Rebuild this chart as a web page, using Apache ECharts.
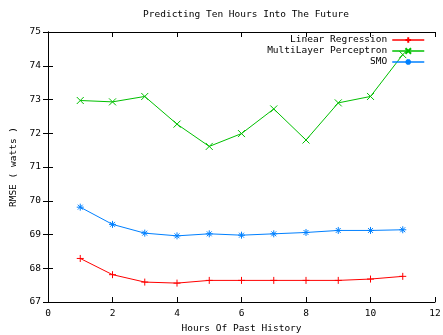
<!DOCTYPE html>
<html><head><meta charset="utf-8">
<script src="https://cdn.jsdelivr.net/npm/echarts@6/dist/echarts.min.js"></script>
<style>html,body{margin:0;padding:0;background:#fff}#c{width:443px;height:335px}</style>
</head><body><div id="c"></div>
<script>
const hours = [1,2,3,4,5,6,7,8,9,10,11];
const linearRegression = [68.29,67.81,67.59,67.56,67.64,67.64,67.64,67.64,67.64,67.68,67.76];
const multiLayerPerceptron = [72.97,72.93,73.09,72.27,71.61,71.99,72.72,71.80,72.90,73.09,74.33];
const smo = [69.81,69.30,69.04,68.96,69.02,68.98,69.02,69.06,69.12,69.12,69.14];
const xTicks = [0,2,4,6,8,10,12];
const yTicks = [67,68,69,70,71,72,73,74,75];

const font = 'DejaVu Sans Mono';
const txt = {fontFamily: font, fontSize: 9.5, color: '#000'};
const pair = a => hours.map((h,i)=>[h,a[i]]);
const plus = 'path://M0,5L10,5M5,0L5,10';
const cross = 'path://M0,0L10,10M10,0L0,10';
const star = 'path://M0,5L10,5M5,0L5,10M1.5,1.5L8.5,8.5M8.5,1.5L1.5,8.5';
function ser(name, data, color, sym){
  return {name, type:'line', data: pair(data), symbol: sym, symbolSize: 7,
    showAllSymbol: true, animation:false,
    lineStyle:{color, width:1}, itemStyle:{color, borderColor:color, borderWidth:1}};
}
const axisLine = {show:true, lineStyle:{color:'#000', width:1}};
const tick = {show:true, inside:true, length:5, lineStyle:{color:'#000'}};
const chart = echarts.init(document.getElementById('c'));
chart.setOption({
  animation:false,
  backgroundColor:'#fff',
  title:{text:'Predicting Ten Hours Into The Future', left:241, top:5, textAlign:'center',
    textStyle:{fontFamily:font, fontSize:9.5, fontWeight:'normal', color:'#000'}},
  grid:{left:48, right:8, top:32, bottom:33, outerBoundsMode:'none', containLabel:false},
  legend:{orient:'vertical', right:18, top:35, padding:0, align:'right', itemWidth:32, itemHeight:7, itemGap:1,
    textStyle:txt, lineStyle:{width:1.5}, data:['Linear Regression','MultiLayer Perceptron','SMO']},
  xAxis:[{type:'value', min:0, max:12, interval:2, axisLine, axisTick:tick, splitLine:{show:false},
      axisLabel:{...txt, margin:7}, name:'Hours Of Past History', nameLocation:'middle', nameGap:21,
      nameTextStyle:txt},
    {type:'value', position:'top', min:0, max:12, interval:2, axisLine, axisTick:tick, splitLine:{show:false}, axisLabel:{show:false}}],
  yAxis:[{type:'value', min:67, max:75, interval:1, axisLine, axisTick:tick, splitLine:{show:false},
      axisLabel:{...txt, margin:7}, name:'RMSE ( watts )', nameLocation:'middle', nameGap:29,
      nameTextStyle:txt},
    {type:'value', position:'right', min:67, max:75, interval:1, axisLine, axisTick:tick, splitLine:{show:false}, axisLabel:{show:false}}],
  series:[
    ser('Linear Regression', linearRegression, '#ff0000', plus),
    ser('MultiLayer Perceptron', multiLayerPerceptron, '#00c000', cross),
    ser('SMO', smo, '#0080ff', star)
  ]
});
</script></body></html>
